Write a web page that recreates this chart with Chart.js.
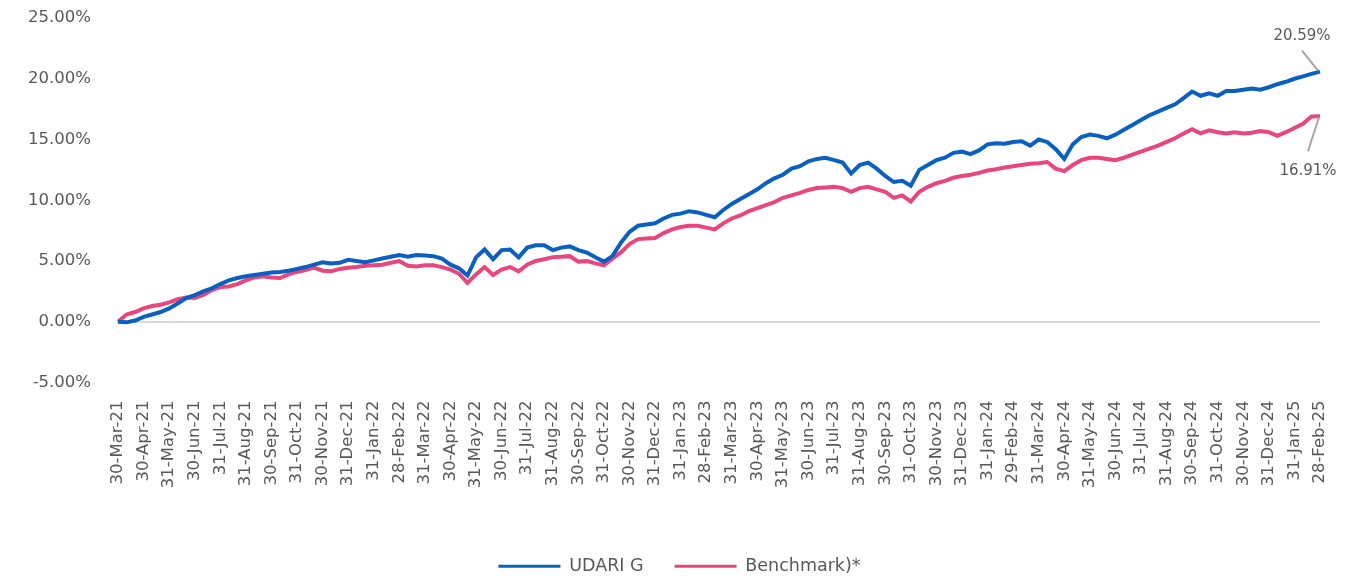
<!DOCTYPE html>
<html>
<head>
<meta charset="utf-8">
<script src="https://cdn.jsdelivr.net/npm/chart.js@4.4.1/dist/chart.umd.min.js"></script>
<style>
  body { margin: 0; background: #fff; }
  #box { width: 1349px; height: 580px; position: relative; }
</style>
</head>
<body>
<div id="box"><canvas id="grafico"></canvas></div>
<script>
const monthEnds = ["30-Mar-21","30-Apr-21","31-May-21","30-Jun-21","31-Jul-21","31-Aug-21","30-Sep-21","31-Oct-21","30-Nov-21","31-Dec-21",
  "31-Jan-22","28-Feb-22","31-Mar-22","30-Apr-22","31-May-22","30-Jun-22","31-Jul-22","31-Aug-22","30-Sep-22","31-Oct-22","30-Nov-22","31-Dec-22",
  "31-Jan-23","28-Feb-23","31-Mar-23","30-Apr-23","31-May-23","30-Jun-23","31-Jul-23","31-Aug-23","30-Sep-23","31-Oct-23","30-Nov-23","31-Dec-23",
  "31-Jan-24","29-Feb-24","31-Mar-24","30-Apr-24","31-May-24","30-Jun-24","31-Jul-24","31-Aug-24","30-Sep-24","31-Oct-24","30-Nov-24","31-Dec-24",
  "31-Jan-25","28-Feb-25"];
const pointsPerMonth = 3;

const udari = [0.00,-0.05,0.10,0.40,0.60,0.80,1.10,1.50,1.95,2.20,
  2.50,2.75,3.10,3.40,3.60,3.75,3.85,3.95,4.05,4.10,
  4.20,4.35,4.50,4.70,4.90,4.80,4.85,5.10,5.00,4.90,
  5.05,5.20,5.35,5.50,5.35,5.50,5.45,5.40,5.20,4.70,
  4.40,3.80,5.30,5.95,5.15,5.90,5.95,5.30,6.10,6.30,
  6.30,5.90,6.10,6.20,5.90,5.70,5.30,4.95,5.40,6.50,
  7.40,7.90,8.00,8.10,8.50,8.80,8.90,9.10,9.00,8.80,
  8.60,9.20,9.70,10.10,10.50,10.90,11.40,11.80,12.10,12.60,
  12.80,13.20,13.40,13.50,13.30,13.10,12.20,12.90,13.10,12.60,
  12.00,11.50,11.60,11.20,12.50,12.90,13.30,13.50,13.90,14.00,
  13.80,14.10,14.60,14.70,14.65,14.80,14.85,14.50,15.00,14.80,
  14.20,13.40,14.60,15.20,15.40,15.30,15.10,15.40,15.80,16.20,
  16.60,17.00,17.30,17.60,17.90,18.40,18.95,18.60,18.80,18.60,
  19.00,19.00,19.10,19.20,19.10,19.30,19.55,19.75,20.00,20.20,
  20.40,20.59];

const benchmark = [0.00,0.60,0.80,1.10,1.30,1.40,1.60,1.85,2.00,1.95,
  2.20,2.60,2.86,2.90,3.10,3.40,3.65,3.75,3.65,3.60,
  3.90,4.10,4.25,4.45,4.20,4.15,4.35,4.45,4.50,4.60,
  4.65,4.70,4.85,5.00,4.60,4.55,4.65,4.65,4.50,4.30,
  3.95,3.20,3.90,4.50,3.85,4.30,4.50,4.15,4.70,5.00,
  5.15,5.30,5.35,5.40,4.95,5.00,4.80,4.65,5.20,5.70,
  6.40,6.80,6.85,6.90,7.30,7.60,7.80,7.90,7.90,7.75,
  7.60,8.10,8.50,8.75,9.10,9.35,9.60,9.85,10.20,10.40,
  10.60,10.85,11.00,11.05,11.10,11.00,10.70,11.00,11.10,10.90,
  10.70,10.20,10.40,9.90,10.70,11.10,11.40,11.60,11.85,12.00,
  12.10,12.25,12.45,12.55,12.70,12.80,12.90,13.00,13.05,13.15,
  12.60,12.40,12.90,13.30,13.50,13.50,13.40,13.30,13.50,13.75,
  14.00,14.25,14.50,14.80,15.10,15.50,15.85,15.50,15.75,15.60,
  15.50,15.60,15.50,15.55,15.70,15.60,15.30,15.60,15.95,16.30,
  16.90,16.91];

const yTicks = [-5, 0, 5, 10, 15, 20, 25];

window.onload = () => {
    var labels = []
    for (let k = 0; k < udari.length; k++) {
        labels.push(k % pointsPerMonth == 0 ? monthEnds[k / pointsPerMonth] : '')
    }

    const grey = '#595959'

    var endLabels = {
        id: 'endLabels',
        afterLayout(chart) {
            // legend sits a bit right of the canvas centre in the original
            chart.legend.left += 39
        },
        afterDatasetsDraw(chart) {
            const ctx = chart.ctx
            const x = chart.scales.x, y = chart.scales.y
            const last = udari.length - 1
            const px = x.getPixelForValue(last)
            const pb = y.getPixelForValue(udari[last])
            const pp = y.getPixelForValue(benchmark[last])
            ctx.save()
            ctx.strokeStyle = '#a6a6a6'
            ctx.lineWidth = 2
            ctx.beginPath()
            ctx.moveTo(px - 18, pb - 21)
            ctx.lineTo(px - 2, pb - 1)
            ctx.moveTo(px - 1, pp + 1)
            ctx.lineTo(px - 12, pp + 35)
            ctx.stroke()
            ctx.fillStyle = grey
            ctx.font = '15px "DejaVu Sans"'
            ctx.textAlign = 'center'
            ctx.textBaseline = 'middle'
            ctx.fillText(udari[last].toFixed(2) + '%', px - 18, pb - 35)
            ctx.fillText(benchmark[last].toFixed(2) + '%', px - 12, pp + 55)
            ctx.restore()
        }
    }

    var grf = document.getElementById("grafico").getContext("2d");

    new Chart(grf, {
        type: 'line',
        data: {
            labels: labels,
            datasets: [{
                label: 'UDARI G',
                data: udari,
                borderColor: '#0a60c0',
                backgroundColor: '#0a60c0',
                borderWidth: 4,
                pointRadius: 0,
                pointStyle: 'line',
                tension: 0
            }, {
                label: 'Benchmark)*',
                data: benchmark,
                borderColor: '#e8467c',
                backgroundColor: '#e8467c',
                borderWidth: 4,
                pointRadius: 0,
                pointStyle: 'line',
                tension: 0
            }]
        },
        options: {
            responsive: true,
            maintainAspectRatio: false,
            animation: false,
            devicePixelRatio: 1,
            layout: { padding: { left: 0, right: 29, top: 18, bottom: -5 } },
            plugins: {
                tooltip: { enabled: false },
                legend: {
                    position: 'bottom',
                    labels: {
                        usePointStyle: true,
                        pointStyleWidth: 62,
                        color: grey,
                        font: { family: 'DejaVu Sans', size: 17.5 },
                        padding: 31,
                        generateLabels: (chart) => Chart.defaults.plugins.legend.labels.generateLabels(chart)
                            .map(l => Object.assign(l, { lineWidth: 3 }))
                    }
                }
            },
            scales: {
                x: {
                    grid: { display: false, drawTicks: false },
                    border: { display: false },
                    ticks: {
                        autoSkip: false,
                        maxRotation: 90,
                        minRotation: 90,
                        padding: 18,
                        color: grey,
                        font: { family: 'DejaVu Sans', size: 16.5 }
                    },
                    afterFit: (s) => { s.height = 144; s.paddingLeft = 0; s.paddingRight = 0 }
                },
                y: {
                    min: yTicks[0],
                    max: yTicks[yTicks.length - 1],
                    afterBuildTicks: (axis) => { axis.ticks = yTicks.map(v => ({ value: v })) },
                    afterFit: (s) => { s.width = 118; s.paddingTop = 0; s.paddingBottom = 0 },
                    border: { display: false },
                    grid: {
                        drawTicks: false,
                        lineWidth: 2,
                        color: (c) => c.tick && c.tick.value === 0 ? '#d9d9d9' : 'rgba(0,0,0,0)'
                    },
                    ticks: {
                        padding: 27,
                        color: grey,
                        font: { family: 'DejaVu Sans', size: 16.5 },
                        callback: (v) => v.toFixed(2) + '%'
                    }
                }
            }
        },
        plugins: [endLabels]
    });
}
</script>
</body>
</html>
